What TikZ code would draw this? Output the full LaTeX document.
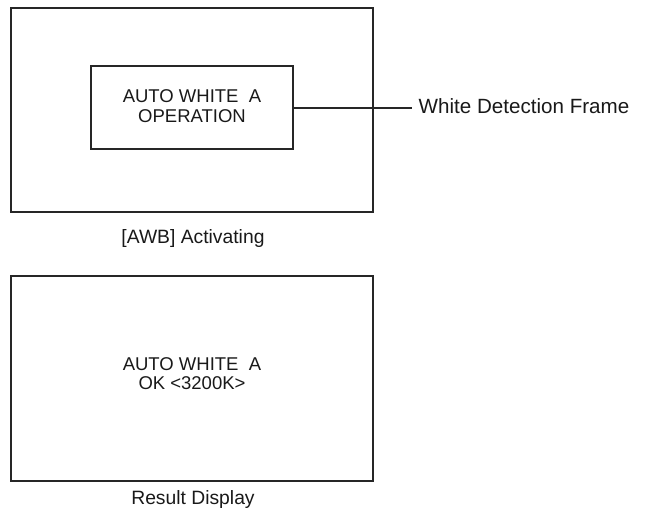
\documentclass[tikz,border=0pt]{standalone}
\usepackage{fontspec}
\setmainfont{Liberation Sans}
\begin{document}
\begin{tikzpicture}[x=1pt,y=-1pt,
  frame/.style={draw=black!85,line width=2pt,inner sep=0pt,fill=none},
  txt/.style={inner sep=0pt,anchor=base,font=\fontsize{18.5}{20}\selectfont,text=black!90},
  captxt/.style={inner sep=0pt,anchor=base,font=\fontsize{19.3}{20}\selectfont,text=black!90},
  lbl/.style={inner sep=0pt,font=\fontsize{20.6}{22}\selectfont,text=black!90},
  conn/.style={draw=black!85,line width=2pt}]
\useasboundingbox (0,0) rectangle (649,512);
% top screen
\node[frame,minimum width=362pt,minimum height=204pt] (outer1) at (192,110) {};
\node[frame,minimum width=202pt,minimum height=83pt] (inner1) at (192,107.5) {};
\node[txt] (t1a) at (192,102) {AUTO WHITE\ \ A};
\node[txt] (t1b) at (192,122.7) {OPERATION};
\coordinate (wdfend) at (412,107.5);
\node[lbl,anchor=base west] (wdf) at (418.5,113.8) {White Detection Frame};
\draw[conn] (inner1.east) -- (wdfend);
\node[captxt] (cap1) at (193,243) {[AWB] Activating};
% bottom screen
\node[frame,minimum width=362pt,minimum height=205pt] (outer2) at (192,378.5) {};
\node[txt] (t2a) at (192,370.5) {AUTO WHITE\ \ A};
\node[txt] (t2b) at (192,389) {OK <3200K>};
\node[captxt] (cap2) at (193,504) {Result Display};
\end{tikzpicture}
\end{document}
